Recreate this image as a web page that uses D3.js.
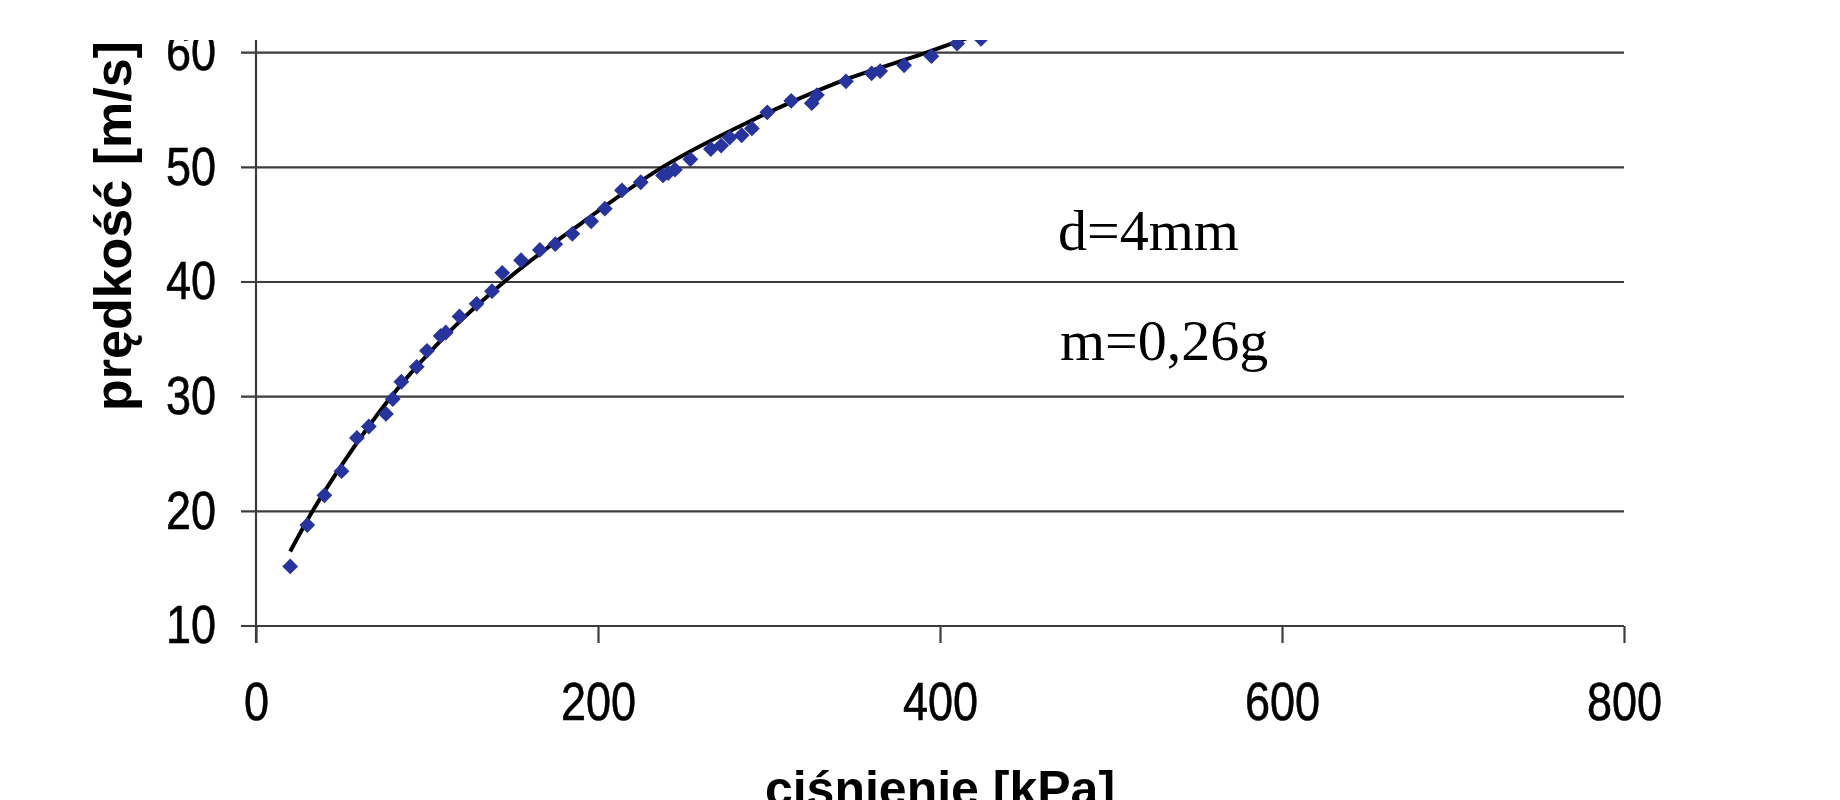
<!DOCTYPE html>
<html>
<head>
<meta charset="utf-8">
<script src="https://cdn.jsdelivr.net/npm/d3@7"></script>
<style>
  body { margin: 0; background: #fff; }
  svg { display: block; }
</style>
</head>
<body>
<div id="chart"></div>
<script>
// measured points: pressure [kPa] vs speed [m/s]
const pressure = [20, 30, 40, 50, 59, 66, 76, 80, 85, 94, 100, 108, 111, 119, 129, 138, 144, 155, 166, 175, 185, 196, 204, 214, 225, 238, 241, 245, 254, 266, 272, 277, 284, 290, 299, 313, 325, 328, 345, 360, 365, 379, 395, 410, 424];
const speed = [15.2, 18.8, 21.4, 23.5, 26.4, 27.4, 28.5, 29.8, 31.3, 32.6, 34.0, 35.3, 35.6, 37.0, 38.1, 39.2, 40.8, 41.9, 42.8, 43.3, 44.2, 45.3, 46.4, 48.0, 48.7, 49.3, 49.5, 49.8, 50.7, 51.6, 51.9, 52.6, 52.8, 53.4, 54.8, 55.8, 55.6, 56.3, 57.5, 58.2, 58.4, 58.9, 59.7, 60.8, 61.2];

// trend line
const trendPressure = [20, 33, 50, 79, 110, 145, 190, 237.5, 290, 340, 392, 420];
const trendSpeed = [16.5, 20, 24, 30, 35.2, 40, 45.1, 50, 54.1, 57.4, 60, 61.5];

const xTicks = [0, 200, 400, 600, 800];
const yTicks = [10, 20, 30, 40, 50, 60];
const notes = ["d=4mm", "m=0,26g"];

const W = 1840, H = 800;
const x = d3.scaleLinear().domain([0, 800]).range([256, 1624]);
const y = d3.scaleLinear().domain([10, 60]).range([626, 52.7]);

const svg = d3.select("#chart").append("svg")
  .attr("width", W).attr("height", H);

svg.append("defs").append("clipPath").attr("id", "crop")
  .append("rect").attr("x", 0).attr("y", 40).attr("width", W).attr("height", H - 40);

const g = svg.append("g").attr("clip-path", "url(#crop)");

const lineColor = "#3c3c3c";

// horizontal grid
g.append("g").selectAll("line")
  .data(yTicks)
  .enter().append("line")
  .attr("x1", x(0) - 15).attr("x2", x(800))
  .attr("y1", d => y(d)).attr("y2", d => y(d))
  .attr("stroke", lineColor).attr("stroke-width", 2.2);

// y axis line
g.append("line")
  .attr("x1", x(0)).attr("x2", x(0))
  .attr("y1", y(10) + 17).attr("y2", y(70))
  .attr("stroke", lineColor).attr("stroke-width", 2.2);

// x axis ticks + labels
const xAxis = g.append("g")
  .attr("transform", `translate(0,${y(10)})`)
  .call(d3.axisBottom(x).tickValues(xTicks).tickSize(17).tickPadding(39).tickFormat(d3.format("d")));
xAxis.select(".domain").remove();
xAxis.selectAll("line").attr("stroke", lineColor).attr("stroke-width", 2.2);

// y axis labels
const yAxis = g.append("g")
  .attr("transform", `translate(${x(0)},0)`)
  .call(d3.axisLeft(y).tickValues(yTicks).tickSize(0).tickPadding(40).tickFormat(d3.format("d")));
yAxis.select(".domain").remove();

g.selectAll(".tick text")
  .attr("font-family", "Liberation Sans, Arial, sans-serif")
  .attr("font-size", 53)
  .attr("fill", "#000")
  .attr("stroke", "#000")
  .attr("stroke-width", 0.6)
  .each(function () {
    const len = this.getComputedTextLength();
    d3.select(this).attr("textLength", len * 0.85).attr("lengthAdjust", "spacingAndGlyphs");
  });

// trend line
const trend = trendPressure.map((p, i) => [p, trendSpeed[i]]);
g.append("path")
  .datum(trend)
  .attr("fill", "none")
  .attr("stroke", "#000")
  .attr("stroke-width", 4)
  .attr("d", d3.line().x(d => x(d[0])).y(d => y(d[1])).curve(d3.curveMonotoneX));

// diamonds
const diamond = d3.symbol().type(d3.symbolSquare).size(125);
g.append("g").selectAll("path")
  .data(pressure.map((p, i) => [p, speed[i]]))
  .enter().append("path")
  .attr("d", diamond)
  .attr("transform", d => `translate(${x(d[0])},${y(d[1])}) rotate(45)`)
  .attr("fill", "#27349b");

// notes
g.selectAll(".note")
  .data(notes)
  .enter().append("text")
  .attr("class", "note")
  .attr("x", (d, i) => [1058, 1060][i])
  .attr("y", (d, i) => [250, 360][i])
  .attr("font-family", "Liberation Serif, Times New Roman, serif")
  .attr("font-size", 58)
  .text(d => d);

// axis titles
g.append("text")
  .attr("transform", `translate(131,411) rotate(-90)`)
  .attr("font-family", "Liberation Sans, Arial, sans-serif")
  .attr("font-weight", "bold")
  .attr("font-size", 52)
  .text("prędkość [m/s]");

g.append("text")
  .attr("x", (x(0) + x(800)) / 2)
  .attr("y", 806)
  .attr("text-anchor", "middle")
  .attr("font-family", "Liberation Sans, Arial, sans-serif")
  .attr("font-weight", "bold")
  .attr("font-size", 50)
  .text("ciśnienie [kPa]");
</script>
</body>
</html>
